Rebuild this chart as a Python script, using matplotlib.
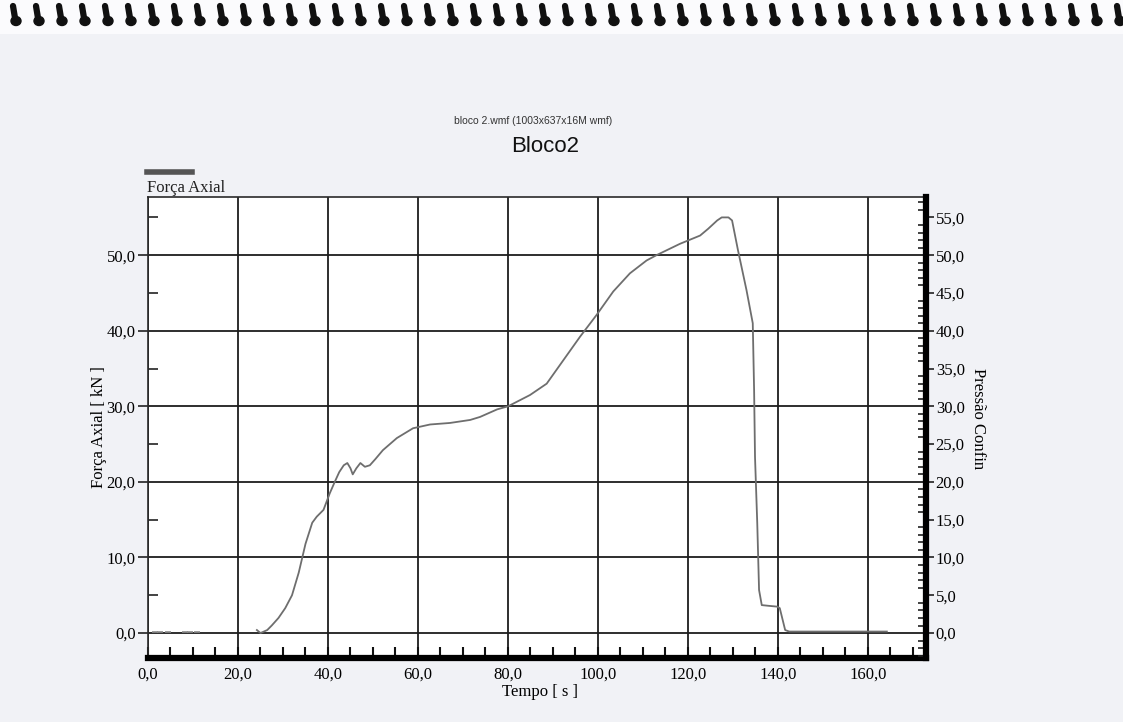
import matplotlib.pyplot as plt
from matplotlib.lines import Line2D
from matplotlib.patches import Ellipse, Rectangle
from matplotlib.ticker import MultipleLocator, FuncFormatter

# curva Força Axial x Tempo
tempo = [24.2, 25.0, 26.5, 27.5, 29.0, 30.5, 32.0, 33.5, 35.0, 36.5, 37.5, 39.0,
         40.4, 41.5, 42.5, 43.5, 44.3, 45.0, 45.5, 46.3, 47.2, 48.2, 49.3, 50.5,
         52.2, 55.3, 58.9, 62.7, 67.1, 71.6, 73.8, 77.6, 80.0, 84.9, 88.6, 92.3,
         96.0, 99.7, 103.4, 107.1, 110.8, 113.0, 118.2, 122.7, 124.5, 126.5, 127.5,
         129.0, 129.8, 131.1, 133.0, 134.4, 134.7, 134.9, 135.4, 135.8, 136.4,
         138.0, 139.8, 140.4, 141.6, 142.5, 164.2]
forca = [0.4, 0.0, 0.4, 1.0, 2.0, 3.3, 5.0, 8.0, 11.8, 14.6, 15.4, 16.3,
         18.5, 20.0, 21.3, 22.2, 22.5, 21.8, 21.0, 21.8, 22.5, 22.0, 22.2, 23.0,
         24.2, 25.8, 27.1, 27.6, 27.8, 28.2, 28.6, 29.6, 30.0, 31.5, 33.0, 36.1,
         39.2, 42.1, 45.2, 47.6, 49.3, 50.0, 51.5, 52.6, 53.5, 54.6, 55.0,
         55.0, 54.6, 50.7, 45.4, 41.0, 32.1, 23.3, 14.5, 5.7, 3.7,
         3.6, 3.5, 3.3, 0.4, 0.2, 0.2]

# pontinhos de ruído no início
tempo_ruido = [1.6, 2.7, 4.5, 8.2, 9.3, 10.8]
forca_ruido = [0.1, 0.1, 0.1, 0.1, 0.1, 0.1]

W, H = 1123, 722


def virgula(v, pos):
    return f"{v:.1f}".replace(".", ",")


plt.rcParams["font.family"] = ["Liberation Serif", "DejaVu Serif"]

fig = plt.figure(figsize=(W / 100, H / 100), dpi=100, facecolor="#f1f2f6")

# faixa branca do topo + espiral do caderno
fig.add_artist(Rectangle((0, 1 - 34 / H), 1, 34 / H, transform=fig.transFigure,
                         facecolor="#fbfbfd", edgecolor="none"))
for i in range(49):
    x = 13 + i * 23.0
    fig.add_artist(Line2D([x / W, (x + 2) / W], [1 - 6 / H, 1 - 18 / H],
                          transform=fig.transFigure, color="#111111", lw=4.5,
                          solid_capstyle="round"))
    fig.add_artist(Ellipse(((x + 3) / W, 1 - 21 / H), 10 / W, 9 / H,
                           transform=fig.transFigure, color="#111111"))

ax = fig.add_axes([148 / W, 1 - 658 / H, 778 / W, 461 / H])
ax.set_facecolor("white")
ax.set_xlim(0, 172.9)
ax.set_ylim(-3.3, 57.7)

ax.plot(tempo, forca, color="#6e6e6e", lw=1.3, zorder=3)
ax.plot(tempo_ruido, forca_ruido, ls="none", marker="_", ms=4, mew=1.2,
        color="#8a8a8a", zorder=3)

ax.xaxis.set_major_locator(MultipleLocator(20))
ax.xaxis.set_minor_locator(MultipleLocator(5))
ax.yaxis.set_major_locator(MultipleLocator(10))
ax.yaxis.set_minor_locator(MultipleLocator(5))
ax.xaxis.set_major_formatter(FuncFormatter(virgula))
ax.yaxis.set_major_formatter(FuncFormatter(virgula))

ax.grid(which="major", color="#1c1c1c", lw=1.3)
ax.set_axisbelow(True)

ax.tick_params(axis="x", which="both", direction="in", length=8, width=1.5,
               color="#111111", labelsize=12, pad=6)
ax.tick_params(axis="y", which="major", direction="out", length=7, width=1.2,
               color="#222222", labelsize=12, pad=2)
ax.tick_params(axis="y", which="minor", direction="in", length=7, width=1.2,
               color="#222222")

for s in ("top", "left"):
    ax.spines[s].set_linewidth(1.2)
    ax.spines[s].set_color("#2a2a2a")
ax.spines["bottom"].set_linewidth(4.5)
ax.spines["bottom"].set_color("black")
ax.spines["right"].set_visible(False)

ax.set_xlabel("Tempo [ s ]", fontsize=12)
ax.xaxis.set_label_coords(0.504, -0.057)
ax.set_ylabel("Força Axial [ kN ]", fontsize=12)
ax.yaxis.set_label_coords(-0.053, 0.5)

ax2 = ax.twinx()
ax2.set_ylim(ax.get_ylim())
ax2.yaxis.set_major_locator(MultipleLocator(5))
ax2.yaxis.set_minor_locator(MultipleLocator(1))
ax2.yaxis.set_major_formatter(FuncFormatter(virgula))
ax2.tick_params(axis="y", which="major", direction="out", length=6, width=1.2,
                color="#222222", labelsize=12, pad=1)
ax2.tick_params(axis="y", which="minor", direction="in", length=6, width=1.2,
                color="#222222")
ax2.spines["right"].set_linewidth(4.5)
ax2.spines["right"].set_color("black")
for s in ("top", "left", "bottom"):
    ax2.spines[s].set_visible(False)
ax2.set_ylabel("Pressão Confin", fontsize=12, rotation=270)
ax2.yaxis.set_label_coords(1.077, 0.52)

# títulos
fig.text(533 / W, 1 - 121 / H, "bloco 2.wmf (1003x637x16M wmf)",
         family=["Liberation Sans", "DejaVu Sans"], fontsize=7.5,
         ha="center", va="center", color="#333333")
fig.text(545 / W, 1 - 146 / H, "Bloco2", family=["Liberation Sans", "DejaVu Sans"],
         fontsize=16, ha="center", va="center", color="#111111")

# legenda
fig.add_artist(Line2D([147 / W, 192 / W], [1 - 172 / H, 1 - 172 / H],
                      transform=fig.transFigure, color="#555555", lw=4))
fig.text(147 / W, 1 - 188 / H, "Força Axial", fontsize=12, ha="left",
         va="center", color="#222222")

fig.savefig("out.png", dpi=100, facecolor=fig.get_facecolor())
